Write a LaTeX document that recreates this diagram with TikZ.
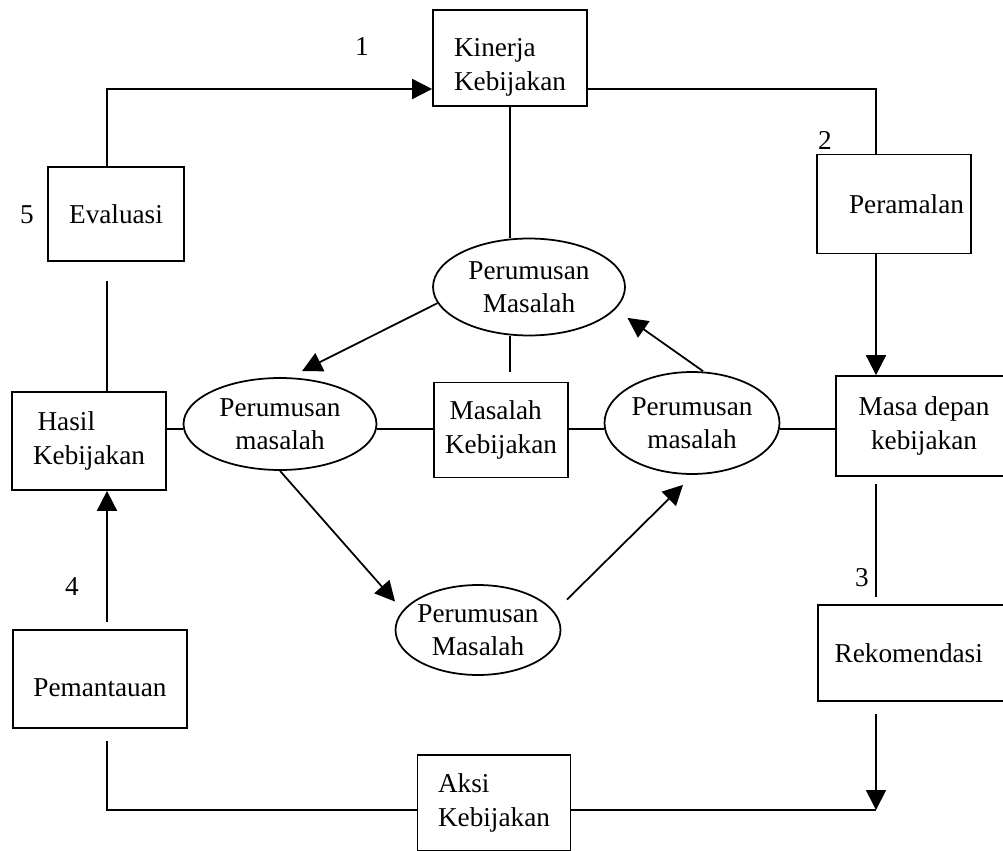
\documentclass[tikz,border=0pt]{standalone}
\usepackage{fontspec}
\setmainfont{Liberation Serif}
\usetikzlibrary{shapes.geometric,arrows.meta}

\begin{document}
\begin{tikzpicture}[x=0.02cm,y=-0.02cm,
		kotak/.style={draw,line width=1pt,inner sep=0pt,font=\fontsize{15.5}{19}\selectfont},
		oval/.style={draw,ellipse,line width=1pt,inner xsep=-10pt,inner ysep=0pt,align=center,font=\fontsize{15.5}{19}\selectfont},
		garis/.style={line width=1pt},
		panah/.style={line width=1pt,-{Triangle[length=0.4cm,width=0.4cm]}},
		nomor/.style={font=\fontsize{15.5}{19}\selectfont}]
	\useasboundingbox (0,0) rectangle (1003,851);
	
	\node[kotak,align=left,minimum width=3.08cm,minimum height=1.92cm,text height=40pt] (kin) at (510,58) {Kinerja\\Kebijakan};
	\node[kotak,align=right,minimum width=3.08cm,minimum height=1.98cm] (per) at (894,204) {\hspace*{0.5cm}Peramalan};
	\node[kotak,minimum width=2.72cm,minimum height=1.88cm] (eva) at (116,214) {Evaluasi};
	\node[kotak,align=left,minimum width=3.08cm,minimum height=1.96cm] (has) at (89,441) {\,Hasil\\Kebijakan};
	\node[kotak,align=left,minimum width=2.68cm,minimum height=1.90cm] (mas) at (501,430) {\,Masalah\\Kebijakan};
	\node[kotak,align=center,minimum width=3.52cm,minimum height=2cm] (md) at (924,426) {Masa depan\\kebijakan};
	\node[kotak,minimum width=3.88cm,minimum height=1.92cm] (rek) at (915,653) {Rekomendasi\hspace*{0.25cm}};
	\node[kotak,minimum width=3.48cm,minimum height=1.96cm,text height=20pt,text depth=0pt] (pem) at (100,679) {Pemantauan};
	\node[kotak,align=left,minimum width=3.06cm,minimum height=1.92cm] (aksi) at (494,803) {Aksi\\Kebijakan};
	
	\node[oval,minimum width=3.84cm,minimum height=1.94cm] (pmt) at (529,287) {Perumusan\\Masalah};
	\node[oval,minimum width=3.86cm,minimum height=1.84cm] (pml) at (280,424) {Perumusan\\masalah};
	\node[oval,minimum width=3.5cm,minimum height=2.04cm] (pmr) at (692,423) {Perumusan\\masalah};
	\node[oval,minimum width=3.3cm,minimum height=1.8cm] (pmb) at (478,630) {Perumusan\\Masalah};
	
	\path (362,47) node[nomor] (n1) {1}
	(825,140) node[nomor] (n2) {2}
	(862,578) node[nomor] (n3) {3}
	(72,587) node[nomor] (n4) {4}
	(27,215) node[nomor] (n5) {5};
	
	\coordinate (kiri) at (107,0);
	\coordinate (kanan) at (876,0);
	\coordinate (atas) at (0,89);
	\coordinate (bawah) at (0,810);
	\coordinate (tengah) at (0,429);
	
	\draw[panah] (eva.north -| kiri) |- (kin.west |- atas);
	\draw[garis] (kin.east |- atas) -| (per.north -| kanan);
	\draw[panah] (per.south -| kanan) -- (md.north -| kanan);
	\draw[garis,shorten <=0.14cm,shorten >=0.14cm] (md.south -| kanan) -- (rek.north -| kanan);
	\draw[panah,shorten <=0.24cm] (rek.south -| kanan) -- (kanan |- bawah);
	\draw[garis] (aksi.east |- bawah) -- (kanan |- bawah);
	\draw[garis,shorten <=0.24cm] (pem.south -| kiri) |- (aksi.west |- bawah);
	\draw[panah,shorten <=0.14cm] (pem.north -| kiri) -- (has.south -| kiri);
	\draw[garis,shorten <=0.38cm] (eva.south -| kiri) -- (has.north -| kiri);
	
	\draw[garis] (kin.south) -- (kin.south |- pmt.north);
	\draw[garis,shorten >=0.2cm] (pmt.south -| kin.south) -- (mas.north -| kin.south);
	\draw[garis] (has.east |- tengah) -- (pml.west |- tengah);
	\draw[garis] (pml.east |- tengah) -- (mas.west |- tengah);
	\draw[garis] (mas.east |- tengah) -- (pmr.west |- tengah);
	\draw[garis] (pmr.east |- tengah) -- (md.west |- tengah);
	
	\draw[panah] (pmt.190) -- ([shift={(22,-6)}]pml.north);
	\draw[panah] (pml.south) -- ([shift={(-24,4)}]pmb.north west);
	\draw[panah] ([shift={(30,2)}]pmb.north east) -- ([shift={(-9,10)}]pmr.south);
	\draw[panah] ([shift={(11,0)}]pmr.north) -- ([shift={(30,-4)}]pmt.south east);
\end{tikzpicture}
\end{document}
